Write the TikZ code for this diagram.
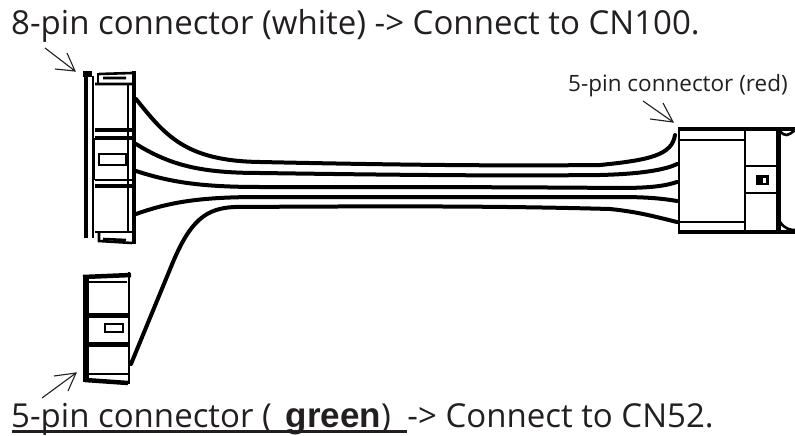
\documentclass[tikz,border=0pt]{standalone}
\usepackage{fontspec}
\setmainfont{Open Sans}
\newfontfamily\boldarial{Liberation Sans}
\definecolor{ink}{HTML}{231F20}
\tikzset{
 wire/.style={line width=4pt,black,line cap=round},
 body/.style={line width=2.6pt,black},
 thin body/.style={line width=1.8pt,black},
 heavy/.style={line width=4.5pt,black},
 pointer/.style={line width=1.1pt,ink},
 caption/.style={inner sep=0pt,anchor=base west,text=ink,font=\fontsize{33}{38}\selectfont},
}
\begin{document}
\begin{tikzpicture}[x=1pt,y=-1pt]
\useasboundingbox (0,0) rectangle (795,436);
\fill[white] (0,0) rectangle (795,436);
% captions
\node[caption] (top) at (11,35) {8-pin connector (white) -> Connect to CN100.};
\node[caption,font=\fontsize{22.5}{26}\selectfont] (red) at (568,92) {5-pin connector (red)};
\node[caption] (bot) at (11,427) {5-pin connector (\hspace{14pt}{\boldarial\bfseries\fontsize{35}{38}\selectfont green})\hspace{8pt} -> Connect to CN52.};
\coordinate (ulA) at (12,431); \coordinate (ulB) at (407,431);
\draw[line width=3pt,ink] (ulA) -- (ulB);
% pointers
\coordinate (pA) at (75,71); \coordinate (pB) at (673,122); \coordinate (pC) at (76,373);
\draw[pointer] (pA) -- (45,48);
\draw[pointer] (67,53) -- (pA) -- (55,69);
\draw[pointer] (pB) -- (643,101);
\draw[pointer] (663,103) -- (pB) -- (650,119);
\draw[pointer] (pC) -- (42,398);
\draw[pointer] (54,376) -- (pC) -- (68,391);
% left connector
\draw[heavy] (86,72) -- (86,238);
\draw[body] (93,76) -- (93,238);
\draw[heavy] (134,71) -- (134,244);
\draw[body] (128,84) -- (128,232);
\fill (83,71) rectangle (92,77);
\draw[body] (99,74) -- (132,73) (103,78) -- (126,78) (95,84) -- (133,84);
\draw[body] (98,73) -- (98,84);
\draw[heavy] (95,130) -- (133,130);
\draw[heavy] (95,138) -- (133,138);
\draw[body] (95,180) -- (133,180);
\draw[heavy] (95,186) -- (133,186);
\draw[body] (95,232) -- (133,232);
\draw[body] (99,233) -- (99,241) -- (132,243);
\draw[body] (103,239) -- (126,240);
\draw[body] (99,154) rectangle (126,165);
\draw[body] (94,138) -- (94,180);
% bottom connector
\draw[line width=6pt] (86,277) -- (86,382);
\draw[heavy] (83,277) -- (131,275);
\draw[body] (129,272) -- (129,384);
\draw[line width=5pt] (85,315) -- (128,315);
\draw[line width=5pt] (85,344) -- (128,344);
\draw[thin body] (88,282) -- (127,282);
\draw[body] (85,374) -- (128,374);
\draw[heavy] (85,380) -- (128,383);
\draw[body] (105,324) rectangle (123,332);
% right connector
\draw[heavy] (680,129) -- (795,129);
\draw[heavy] (680,232) -- (795,232);
\draw[body] (679,127) -- (679,234);
\draw[body] (680,140) -- (745,140) (680,222) -- (745,222);
\draw[body] (745,129) -- (745,232);
\draw[line width=5pt] (778,129) -- (778,232);
\draw[body] (745,166) -- (777,166) (745,193) -- (777,193);
\fill (756,175) rectangle (769,185);
\fill[white] (763,178) rectangle (766,183);
\draw[body] (780,131) .. controls (785,137) and (788,136) .. (795,130);
\draw[body] (780,222) .. controls (785,229) and (790,230) .. (795,230);
% wires
\coordinate (a1) at (136,99); \coordinate (b1) at (675,135);
\coordinate (a2) at (136,144); \coordinate (b2) at (677,164);
\coordinate (a3) at (136,171); \coordinate (b3) at (677,182);
\coordinate (a4) at (136,214); \coordinate (b4) at (677,201);
\coordinate (a5) at (131,364); \coordinate (b5) at (677,222);
\draw[wire] (a1) .. controls (165,135) and (185,161) .. (260,162) .. controls (400,165) and (500,166) .. (600,165) .. controls (650,160) and (672,155) .. (b1);
\draw[wire] (a2) .. controls (170,165) and (200,173) .. (260,173) .. controls (400,175) and (500,176) .. (600,175) .. controls (640,174) and (665,170) .. (b2);
\draw[wire] (a3) .. controls (170,182) and (200,187) .. (260,187) .. controls (400,187) and (500,187) .. (620,188) .. controls (650,188) and (665,186) .. (b3);
\draw[wire] (a4) .. controls (170,202) and (200,197) .. (260,197) .. controls (400,197) and (500,197) .. (620,197) .. controls (650,197) and (665,199) .. (b4);
\draw[wire] (a5) -- (173,262) .. controls (190,222) and (205,208) .. (235,207) .. controls (400,206) and (500,206) .. (610,209) .. controls (640,212) and (660,218) .. (b5);
\end{tikzpicture}
\end{document}
